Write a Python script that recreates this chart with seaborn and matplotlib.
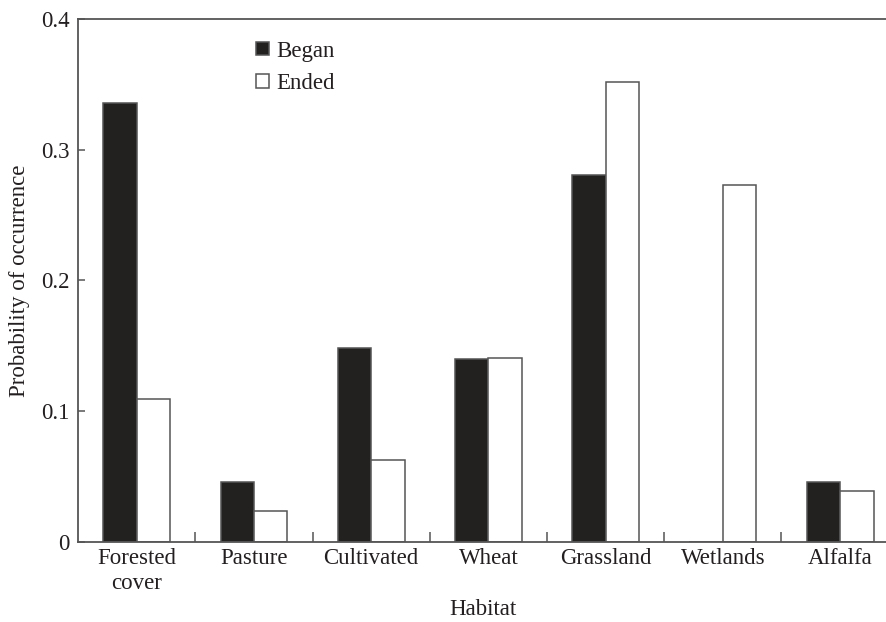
import pandas as pd
import matplotlib.pyplot as plt
import seaborn as sns
from matplotlib.ticker import FixedLocator

habitats = ['Forested\ncover', 'Pasture', 'Cultivated', 'Wheat', 'Grassland', 'Wetlands', 'Alfalfa']
began = [0.336, 0.046, 0.148, 0.140, 0.281, 0.0, 0.046]
ended = [0.109, 0.0235, 0.0625, 0.141, 0.352, 0.273, 0.039]
groups = ['Began', 'Ended']
y_ticks = [0, 0.1, 0.2, 0.3, 0.4]
y_ticklabels = ['0', '0.1', '0.2', '0.3', '0.4']

df = pd.DataFrame({
    'Habitat': habitats * 2,
    'Probability': began + ended,
    'Group': ['Began'] * len(habitats) + ['Ended'] * len(habitats),
})

sns.set_style('ticks')
plt.rcParams['font.family'] = ['Liberation Serif', 'DejaVu Serif']
ink = '#231f20'
edge = '#555555'
fs = 16.5

fig = plt.figure(figsize=(8.87, 6.22), dpi=100)
ax = fig.add_axes([0.088, 0.1286, 0.912, 0.841])

sns.barplot(data=df, x='Habitat', y='Probability', hue='Group', hue_order=groups,
            palette={'Began': ink, 'Ended': 'white'}, width=0.57, gap=0,
            edgecolor=edge, linewidth=1.1, ax=ax)

ax.set_xlim(-0.5, 6.4)
ax.set_ylim(0, 0.4)
ax.set_yticks(y_ticks)
ax.set_yticklabels(y_ticklabels)
ax.xaxis.set_minor_locator(FixedLocator([i + 0.5 for i in range(len(habitats) - 1)]))
ax.tick_params(axis='x', which='major', length=0, pad=4, labelsize=fs, colors=ink)
ax.tick_params(axis='x', which='minor', direction='in', length=7, width=1.1, color=edge)
ax.tick_params(axis='y', direction='in', length=5, width=1.1, color=edge, labelsize=fs,
               labelcolor=ink, pad=6)
for lbl in ax.get_xticklabels():
    lbl.set_linespacing(1.3)

for side in ['left', 'bottom', 'top']:
    ax.spines[side].set_color(edge)
    ax.spines[side].set_linewidth(1.3)
ax.spines['right'].set_visible(False)

ax.set_xlabel('Habitat', fontsize=fs, color=ink, labelpad=3)
ax.set_ylabel('Probability of occurrence', fontsize=fs, color=ink, labelpad=8)

handles, labels = ax.get_legend_handles_labels()
ax.legend(handles, labels, loc='upper left', bbox_to_anchor=(0.195, 0.998), frameon=False,
          fontsize=fs, handlelength=0.55, handleheight=0.55, handletextpad=0.3,
          labelspacing=0.5, labelcolor=ink)

plt.savefig('out.png', dpi=100)
plt.close()
